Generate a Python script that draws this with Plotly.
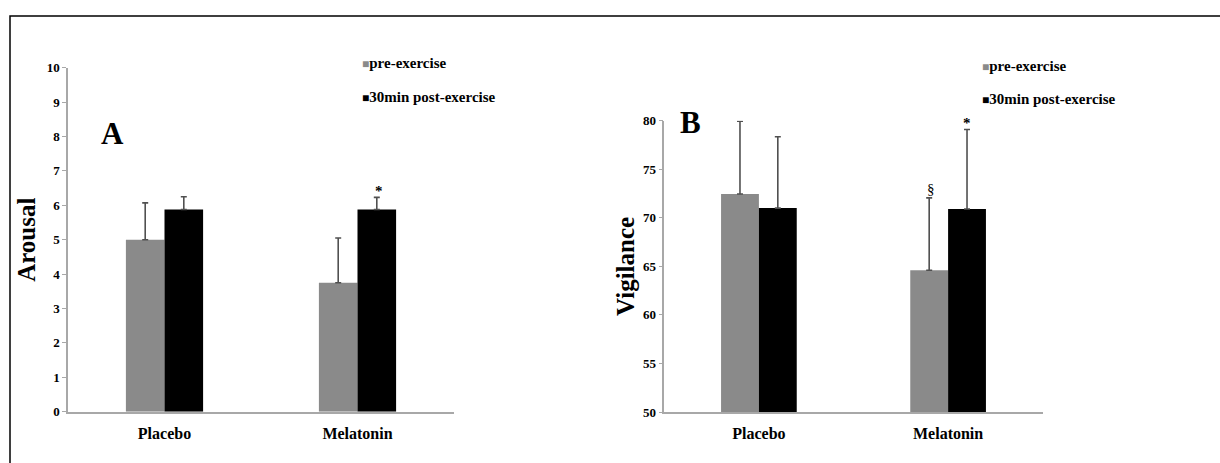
import plotly.graph_objects as go

categories = ["Placebo", "Melatonin"]
series_names = ["pre-exercise", "30min post-exercise"]

arousal_pre = [5.0, 3.75]
arousal_pre_err = [1.07, 1.30]
arousal_post = [5.88, 5.88]
arousal_post_err = [0.37, 0.35]

vigilance_pre = [72.45, 64.6]
vigilance_pre_err = [7.5, 7.45]
vigilance_post = [71.0, 70.9]
vigilance_post_err = [7.35, 8.2]

arousal_ticks = list(range(0, 11))
vigilance_ticks = [50, 55, 60, 65, 70, 75, 80]

GRAY = "#8a8a8a"
BLACK = "#000000"
ERR = "#505050"
AXIS = "#a8a8a8"
FONT = "Liberation Serif"

W, H = 1220, 463
def px(X):
    return X / W
def py(Y):
    return 1 - Y / H

fig = go.Figure()

def add_bars(vals, errs, color, name, xa, ya):
    fig.add_trace(go.Bar(
        x=categories, y=vals, name=name, marker=dict(color=color, line=dict(width=0)),
        error_y=dict(type="data", symmetric=False, array=errs, arrayminus=[0]*len(errs),
                     color=ERR, thickness=1.6, width=3),
        xaxis=xa, yaxis=ya, showlegend=False))

add_bars(arousal_pre, arousal_pre_err, GRAY, series_names[0], "x", "y")
add_bars(arousal_post, arousal_post_err, BLACK, series_names[1], "x", "y")
add_bars(vigilance_pre, vigilance_pre_err, GRAY, series_names[0], "x2", "y2")
add_bars(vigilance_post, vigilance_post_err, BLACK, series_names[1], "x2", "y2")

axis_font = dict(family=FONT, size=13, color="#000", weight="bold")
cat_font = dict(family=FONT, size=16, color="#000", weight="bold")
title_font = dict(family=FONT, size=25, color="#000", weight="bold")

common_y = dict(showline=True, linecolor=AXIS, linewidth=1.5, ticks="outside", ticklen=4,
                tickcolor=AXIS, tickfont=axis_font, showgrid=False, zeroline=False, automargin=False)
common_x = dict(showline=True, linecolor=AXIS, linewidth=1.5, ticks="", tickfont=cat_font,
                showgrid=False, zeroline=False, ticklabelstandoff=6, automargin=False)

fig.update_layout(
    width=W, height=H, autosize=False,
    margin=dict(l=0, r=0, t=0, b=0, pad=0, autoexpand=False),
    paper_bgcolor="white", plot_bgcolor="white",
    barmode="group", bargap=0.6, bargroupgap=0,
    font=dict(family=FONT, color="#000"),
    xaxis=dict(domain=[px(68), px(454)], anchor="y", **common_x),
    yaxis=dict(domain=[py(411.7), py(67.7)], anchor="x", range=[0, 10], tickvals=arousal_ticks,
               title=dict(text="Arousal", font=title_font, standoff=4), **common_y),
    xaxis2=dict(domain=[px(664.3), px(1042.7)], anchor="y2", **common_x),
    yaxis2=dict(domain=[py(412), py(120.7)], anchor="x2", range=[50, 80], tickvals=vigilance_ticks,
                title=dict(text="Vigilance", font=title_font, standoff=1), **common_y),
)

ann = []
def legend_items(x0, y1, y2):
    for name, color, yy in ((series_names[0], GRAY, y1), (series_names[1], BLACK, y2)):
        ann.append(dict(xref="paper", yref="paper", x=px(x0), y=py(yy), xanchor="left", yanchor="middle",
                        text=f"<span style='color:{color};font-size:12px'>■</span><b>{name}</b>",
                        showarrow=False, font=dict(family=FONT, size=15, color="#000")))

legend_items(360, 63, 97)
legend_items(980, 66, 99)

ann.append(dict(xref="paper", yref="paper", x=px(112), y=py(133), xanchor="center", yanchor="middle",
                text="<b>A</b>", showarrow=False, font=dict(family=FONT, size=31, color="#000")))
ann.append(dict(xref="paper", yref="paper", x=px(691), y=py(122), xanchor="center", yanchor="middle",
                text="<b>B</b>", showarrow=False, font=dict(family=FONT, size=31, color="#000")))

# significance markers
ann.append(dict(xref="x", yref="y", x=categories[1], y=arousal_post[1] + arousal_post_err[1], xshift=21,
                yanchor="bottom", yshift=-4, text="<b>*</b>", showarrow=False,
                font=dict(family=FONT, size=15, color="#000")))
ann.append(dict(xref="x2", yref="y2", x=categories[1], y=vigilance_post[1] + vigilance_post_err[1], xshift=19,
                yanchor="bottom", yshift=-4, text="<b>*</b>", showarrow=False,
                font=dict(family=FONT, size=15, color="#000")))
ann.append(dict(xref="x2", yref="y2", x=categories[1], y=vigilance_pre[1] + vigilance_pre_err[1], xshift=-17,
                yanchor="bottom", yshift=-1, text="§", showarrow=False,
                font=dict(family=FONT, size=15, color="#000")))

fig.update_layout(annotations=ann)

# outer frame (cut by image edges)
fig.add_shape(type="rect", xref="paper", yref="paper", x0=px(10), x1=1.05, y0=-0.1, y1=py(16),
              line=dict(color="#000", width=1.5), fillcolor="rgba(0,0,0,0)")

post = ("document.body.style.margin='0';document.body.style.overflow='hidden';"
        "document.documentElement.style.overflow='hidden';"
        "var gd=document.getElementById('{plot_id}');gd.style.position='absolute';"
        "gd.style.left='0px';gd.style.top='0px';")

fig.write_html("out.html", post_script=post, config=dict(displayModeBar=False))
